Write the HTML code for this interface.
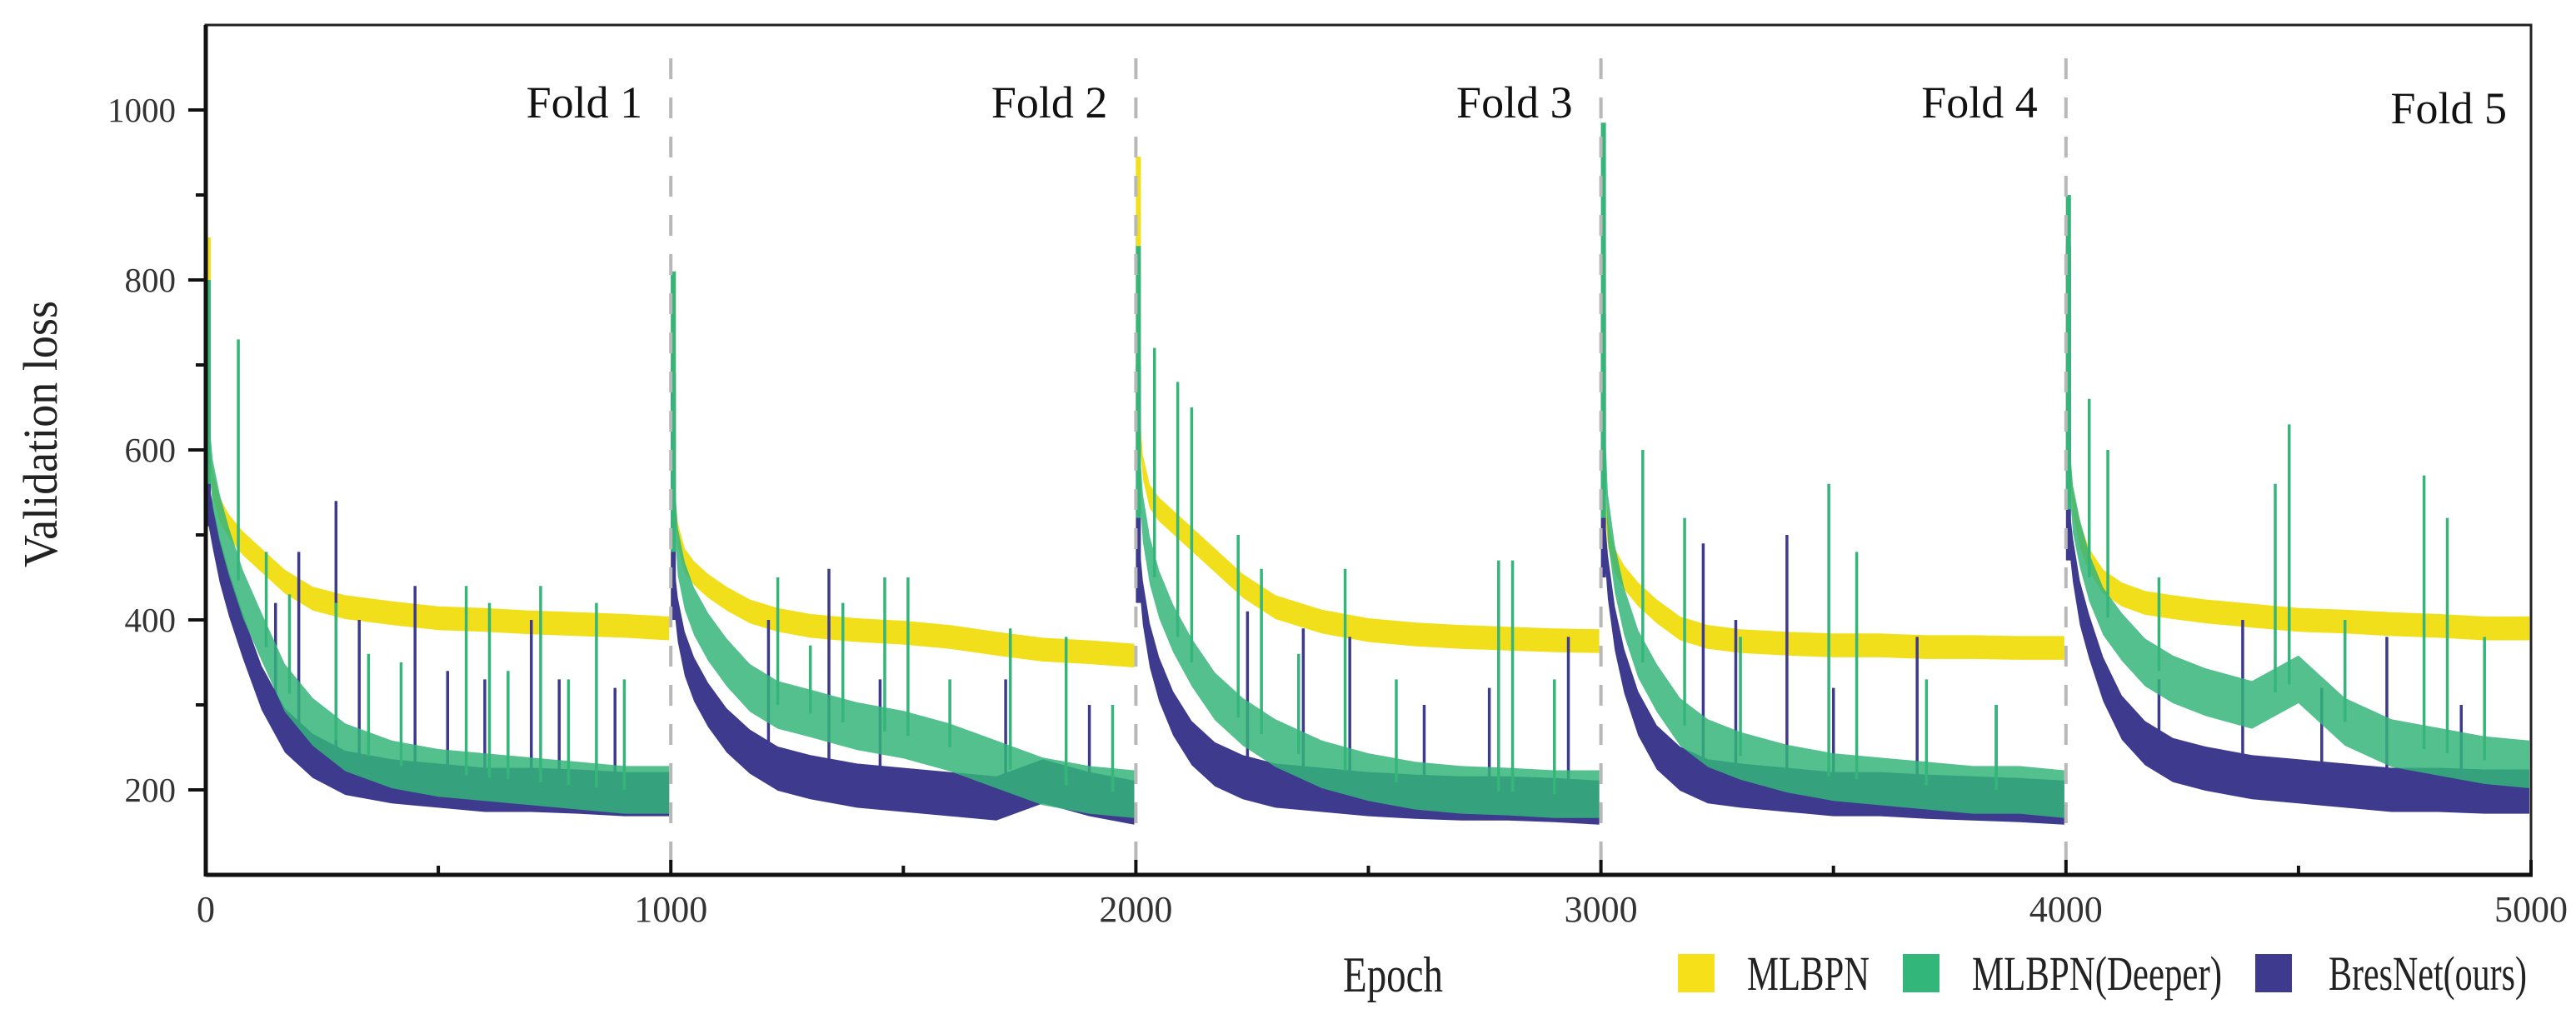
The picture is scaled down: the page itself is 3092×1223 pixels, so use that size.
<!DOCTYPE html>
<html><head><meta charset="utf-8"><style>
html,body{margin:0;padding:0;background:#fff;}
svg{display:block;}
text{font-family:"Liberation Serif",serif;}
</style></head><body>
<svg id="chart" width="3092" height="1223" viewBox="0 0 3092 1223" xmlns="http://www.w3.org/2000/svg">
<rect x="0" y="0" width="3092" height="1223" fill="#fff"/>
<g id="series"></g>
<g id="grid"></g>
<g id="axes"></g>
<g id="labels"></g>
</svg>
<script>
// ---- data ----
const foldOffsets = [0, 5, 15, 30, 50, 80, 120, 170, 230, 300, 400, 500, 600, 700, 800, 900, 1000];
const foldNames = ["Fold 1", "Fold 2", "Fold 3", "Fold 4", "Fold 5"];
const seriesNames = ["MLBPN", "MLBPN(Deeper)", "BresNet(ours)"];
const xTicks = [0, 1000, 2000, 3000, 4000, 5000];
const xTickLabels = ["0", "1000", "2000", "3000", "4000", "5000"];
const yTicks = [200, 400, 600, 800, 1000];
const yTickLabels = ["200", "400", "600", "800", "1000"];
const mlbpn = [
  [850,620,560,530,510,490,470,445,425,415,408,402,400,397,395,393,390],
  [810,560,500,470,455,440,425,410,400,393,388,385,380,372,365,362,358],
  [945,650,580,545,530,515,495,470,440,415,398,388,383,380,378,376,375],
  [830,560,500,470,450,430,410,390,380,375,372,370,370,368,368,367,367],
  [830,600,540,500,470,445,430,420,415,410,405,400,398,395,393,390,390]
];
const deeper = [
  [800,620,560,520,480,430,380,320,280,250,230,220,215,210,205,200,200],
  [810,560,480,440,410,380,350,320,300,290,275,265,250,230,210,200,195],
  [840,600,520,470,430,390,350,310,280,255,230,215,205,200,198,195,195],
  [985,650,520,460,410,360,320,280,255,240,225,215,210,205,200,200,195],
  [900,600,530,490,450,410,380,350,330,315,300,330,280,255,245,235,230]
];
const bresnet = [
  [720,540,510,470,430,380,320,270,240,220,210,205,200,200,198,195,195],
  [690,450,400,360,330,300,270,245,225,215,205,200,195,190,210,195,185],
  [700,480,420,370,330,290,255,230,215,205,200,195,192,190,190,188,185],
  [760,520,450,390,340,290,250,225,210,205,200,195,195,192,190,188,185],
  [840,520,470,420,380,330,285,255,235,225,215,210,205,200,200,198,198]
];
const deeperSpikeEpochs = [70,130,180,280,350,420,560,610,650,720,780,840,900,1230,1300,1370,1460,1510,1600,1730,1850,1950,2040,2090,2120,2220,2270,2350,2450,2560,2780,2810,2900,3090,3180,3300,3490,3550,3700,3850,4050,4090,4200,4450,4480,4600,4770,4820,4900];
const deeperSpikeValues = [730,480,430,420,360,350,440,420,340,440,330,420,330,450,370,420,450,450,330,390,380,300,720,680,650,500,460,360,460,330,470,470,330,600,520,380,560,480,330,300,660,600,450,560,630,400,570,520,380];
const bresSpikeEpochs = [150,200,280,330,450,520,600,700,760,880,1210,1340,1450,1720,1900,2240,2360,2460,2620,2760,2930,3220,3290,3400,3500,3680,3850,4200,4380,4550,4690,4850];
const bresSpikeValues = [420,480,540,400,440,340,330,400,330,320,400,460,330,330,300,410,390,380,300,320,380,490,400,500,320,380,300,330,400,320,380,300];

// ---- scales ----
const X0=247, X1=3038, YT=30, YB=1050;
function xs(v){return X0+(v/5000)*(X1-X0);}
function ys(v){return YB-((v-100)/1000)*(YB-YT);}
const NS="http://www.w3.org/2000/svg";
function mk(tag,attrs,parent){const e=document.createElementNS(NS,tag);for(const k in attrs)e.setAttribute(k,attrs[k]);parent.appendChild(e);return e;}
const gS=document.getElementById('series'), gG=document.getElementById('grid'), gA=document.getElementById('axes'), gL=document.getElementById('labels');

function band(data, half, color, name, opacity){
  data.forEach((fold,fi)=>{
    let top=[],bot=[];
    fold.forEach((v,i)=>{
      const e=fi*1000+foldOffsets[i];
      const px=Math.min(xs(e), xs(fi*1000+1000)-2);
      top.push(px.toFixed(1)+","+ys(v+half).toFixed(1));
      bot.push(px.toFixed(1)+","+ys(v-half).toFixed(1));
    });
    const pts=top.concat(bot.reverse()).join(" ");
    const p=mk('polygon',{points:pts,fill:color,'fill-opacity':opacity},gS);
    
    
    // initial peak of the fold
    const l=mk('line',{x1:xs(fi*1000)+3,x2:xs(fi*1000)+3,y1:ys(fold[2]),y2:ys(fold[0]),stroke:color,'stroke-width':6},gS);
    
    
  });
}
function spikes(ep,vals,color,name,base){
  ep.forEach((e,i)=>{
    const fi=Math.min(4,Math.floor(e/1000));
    const fold=base[fi], off=e-fi*1000;
    let j=0; while(j<foldOffsets.length-2 && foldOffsets[j+1]<off) j++;
    const t=(off-foldOffsets[j])/(foldOffsets[j+1]-foldOffsets[j]);
    const bv=fold[j]+(fold[j+1]-fold[j])*t;
    const l=mk('line',{x1:xs(e),x2:xs(e),y1:ys(bv),y2:ys(vals[i]),stroke:color,'stroke-width':3.5},gS);
    
    
  });
}
band(mlbpn,14,'#f2df1c','mlbpn-band',1);
band(bresnet,26,'#3e3b8f','bresnet-band',1);
spikes(bresSpikeEpochs,bresSpikeValues,'#3e3b8f','bresnet',bresnet);
band(deeper,28,'#35b57a','deeper-band',0.85);
spikes(deeperSpikeEpochs,deeperSpikeValues,'#35b57a','deeper',deeper);

// fold separators
[1000,2000,3000,4000].forEach(v=>{
  const l=mk('line',{x1:xs(v),x2:xs(v),y1:YT+40,y2:YB,stroke:'#b8b8b8','stroke-width':4,'stroke-dasharray':'25 22'},gG);
  
  
});

// axes frame
const fr=mk('rect',{x:X0,y:YT,width:X1-X0,height:YB-YT,fill:'none',stroke:'#222','stroke-width':3},gA);


const la=mk('line',{x1:X0,x2:X0,y1:YT,y2:YB+2,stroke:'#111','stroke-width':5},gA);


const ba=mk('line',{x1:X0,x2:X1+2,y1:YB,y2:YB,stroke:'#111','stroke-width':5},gA);



xTicks.forEach((v,i)=>{
  const t=mk('line',{x1:xs(v),x2:xs(v),y1:YB,y2:YB-18,stroke:'#111','stroke-width':4},gA);
  
  
  const tx=mk('text',{x:xs(v),y:1106,'font-size':44,'text-anchor':'middle',fill:'#333'},gL);
  tx.textContent=xTickLabels[i];
  
  
});
[500,1500,2500,3500,4500].forEach(v=>{
  const t=mk('line',{x1:xs(v),x2:xs(v),y1:YB,y2:YB-11,stroke:'#111','stroke-width':4},gA);
  
  
});
yTicks.forEach((v,i)=>{
  const t=mk('line',{x1:X0-21,x2:X0,y1:ys(v),y2:ys(v),stroke:'#111','stroke-width':4},gA);
  
  
  const tx=mk('text',{x:211,y:ys(v)+14,'font-size':41,'text-anchor':'end',fill:'#333'},gL);
  tx.textContent=yTickLabels[i];
  
  
});
[300,500,700,900].forEach(v=>{
  const t=mk('line',{x1:X0-12,x2:X0,y1:ys(v),y2:ys(v),stroke:'#111','stroke-width':4},gA);
  
  
});

// fold labels
foldNames.forEach((n,i)=>{
  const right = i<4 ? xs((i+1)*1000)-34 : 3009;
  const t=mk('text',{x:right,y:i<4?141:148,'font-size':54,'text-anchor':'end',fill:'#111'},gL);
  t.textContent=n;
  
  
});

// axis titles
const yt=mk('text',{x:0,y:0,'font-size':58,'text-anchor':'middle',fill:'#222',textLength:320,lengthAdjust:'spacingAndGlyphs',transform:'translate(68,521) rotate(-90)'},gL);
yt.textContent='Validation loss';


const xt=mk('text',{x:1612,y:1190,'font-size':60,fill:'#222',textLength:120,lengthAdjust:'spacingAndGlyphs'},gL);
xt.textContent='Epoch';



// legend
const legColors=['#f5e01a','#33b679','#3e3b8f'];
const legSw=[2014,2284,2707], legTx=[2097,2367,2795], legLen=[147,300,238];
seriesNames.forEach((n,i)=>{
  const r=mk('rect',{x:legSw[i],y:1145,width:44,height:46,fill:legColors[i]},gL);
  
  
  const t=mk('text',{x:legTx[i],y:1188,'font-size':58,fill:'#222',textLength:legLen[i],lengthAdjust:'spacingAndGlyphs'},gL);
  t.textContent=n;
  
  
});
</script>
</body></html>
